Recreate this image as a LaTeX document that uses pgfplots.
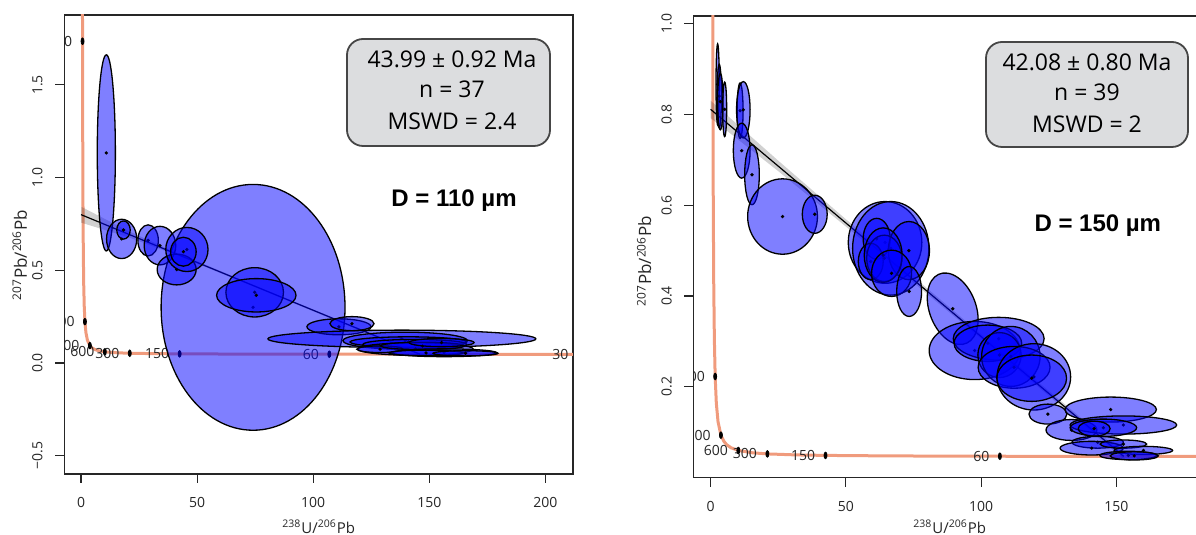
\documentclass[border=0pt]{standalone}
\usepackage{pgfplots}
\pgfplotsset{compat=1.18}
\usepackage{pgfplotstable}
\usepackage{fontspec}
\setmainfont{Open Sans}
\newfontfamily\lib{Liberation Sans}
\definecolor{conc}{RGB}{240,155,125}
\definecolor{boxfill}{RGB}{220,221,223}
\definecolor{boxline}{RGB}{70,70,70}

\pgfplotstableread{
x y
0.57439 2.507
0.6509 1.735
0.74232 1.2072
0.85326 0.8456
0.99025 0.5969
1.16306 0.42521
1.38699 0.30603
1.6875 0.2228
2.1110 0.16436
2.7491 0.12305
3.817 0.09365
4.8878 0.08017
5.9589 0.072526
7.5682 0.06583
10.252 0.05993
15.621 0.054724
20.992 0.05236
31.735 0.05013
42.477 0.04907
63.966 0.048036
80.08 0.047633
106.94 0.04723
128.43 0.047036
160.66 0.046840
214.38 0.04664
}\concordia

\pgfplotstableread{
x y
0.6509 1.735
1.6875 0.2228
3.817 0.09365
10.252 0.05993
20.992 0.05236
42.477 0.04907
106.94 0.04723
}\ticksL

\pgfplotstableread{
x y
1.6875 0.2228
3.817 0.09365
10.252 0.05993
20.992 0.05236
42.477 0.04907
106.94 0.04723
}\ticksR

\pgfplotstableread{
x y ax ay by
74.1 0.300 39.6 0 0.663
10.9 1.133 3.9 0 0.529
17.5 0.669 6.5 0 0.106
18.3 0.717 2.9 0 0.049
28.9 0.661 4.4 0 0.084
34.0 0.633 6.8 0 0.104
41.2 0.504 8.4 0 0.083
45.6 0.612 9.1 0 0.119
44.1 0.600 5.5 0 0.078
74.8 0.381 12.4 0 0.133
75.5 0.365 17.1 0 0.090
111.1 0.195 13.8 0 0.043
116.7 0.212 9.5 0 0.038
138.2 0.130 57.7 0 0.047
139.6 0.120 26.8 0 0.046
141.0 0.113 25.1 0 0.028
143.8 0.100 22.4 0 0.027
144.1 0.075 24.8 0 0.034
128.8 0.074 10.0 0 0.018
147.1 0.092 18.0 0 0.020
155.3 0.110 14.0 0 0.022
156.4 0.055 22.6 0 0.021
148.6 0.054 16.0 0 0.015
165.6 0.052 14.0 0 0.014
}\ellL

\pgfplotstableread{
x y ax ay by
2.6 0.866 0.6 0 0.089
3.2 0.840 0.8 0 0.070
3.6 0.828 1.0 0 0.062
5.2 0.811 0.74 0 0.060
10.9 0.808 1.1 0 0.061
12.1 0.810 2.5 0 0.062
11.5 0.720 3.1 0 0.0605
15.3 0.667 2.7 0 0.066
26.6 0.575 12.9 0 0.083
38.5 0.580 4.6 0 0.042
64.5 0.518 13.6 0 0.090
66.6 0.505 14.1 0 0.103
61.4 0.526 5.0 0 0.045
73.3 0.500 7.6 0 0.064
59.2 0.476 4.6 0 0.040
64.2 0.483 6.5 0 0.051
63.8 0.490 7.0 0 0.060
66.9 0.450 7.4 0 0.051
73.4 0.410 4.6 0 0.055
89.5 0.372 9.4 -0.024 0.075
97.6 0.280 16.8 0 0.064
106.5 0.306 16.8 0 0.047
102.5 0.296 12.5 0 0.040
106.8 0.270 8.0 0 0.0495
111.0 0.267 10.8 0 0.066
112.2 0.243 13.3 0 0.046
119.5 0.222 13.6 0 0.073
118.7 0.219 12.9 0 0.051
124.7 0.140 7.0 0 0.022
147.9 0.150 16.9 0 0.0275
133.4 0.105 9.4 0 0.023
152.6 0.116 19.7 0 0.020
145.2 0.110 12.3 0 0.019
141.8 0.108 5.9 0 0.0165
143.1 0.078 9.5 0 0.013
140.9 0.065 11.7 0 0.015
152.6 0.074 8.6 0 0.009
160.0 0.060 10.8 0 0.009
154.4 0.049 10.5 0 0.0092
156.6 0.048 8.9 0 0.009
}\ellR

\tikzset{agelabel/.style={anchor=east, xshift=-5pt, inner sep=0pt, font=\fontsize{7}{8}\selectfont, text=black!85}}

\pgfplotsset{
  myaxis/.style={
    scale only axis, anchor=south west,
    axis line style={line width=0.75pt, black!85},
    tick align=outside, major tick length=4.5pt,
    tick style={line width=0.6pt, black!85},
    xtick pos=bottom, ytick pos=left,
    tick label style={font=\fontsize{7}{8}\selectfont, text=black!85},
    xticklabel style={anchor=north, inner sep=0pt},
    yticklabel style={rotate=90, anchor=south, inner sep=0pt},
    xticklabel shift=7.1pt,
    yticklabel shift=6.1pt,
    clip=true,
  },
  ells/.style={
    scatter, only marks, mark=*, mark size=0.45pt,
    visualization depends on={\thisrow{ax}\as\eax},
    visualization depends on={\thisrow{ay}\as\eay},
    visualization depends on={\thisrow{by}\as\eby},
    scatter/@pre marker code/.code={%
      \pgfscope
      \pgfpathellipse{\pgfpointorigin}{\pgfplotspointaxisdirectionxy{\eax}{\eay}}{\pgfplotspointaxisdirectionxy{0}{\eby}}%
      \pgfsetfillcolor{blue}%
      \pgfsetfillopacity{0.5}%
      \pgfsetstrokecolor{black}%
      \pgfsetlinewidth{0.65pt}%
      \pgfusepath{fill,stroke}%
      \pgfsetfillopacity{1}%
      \pgfsetfillcolor{black}%
    },
    scatter/@post marker code/.code={\endpgfscope},
  },
}

\begin{document}
\begin{tikzpicture}
\useasboundingbox (0,0) rectangle (598pt,267.5pt);
\clip (0,0) rectangle (598pt,267.5pt);

% ---------------- left panel ----------------
\begin{axis}[myaxis, at={(32.15pt,30.5pt)}, width=254.35pt, height=229.5pt,
  xmin=-7.2, xmax=211.9, ymin=-0.599, ymax=1.877,
  xtick={0,50,100,150,200}, xticklabels={0,50,100,150,200},
  ytick={-0.5,0,0.5,1,1.5}, yticklabels={−0.5,0.0,0.5,1.0,1.5}]
\addplot[conc, line width=1.5pt] table {\concordia};
\addplot[only marks, mark=*, mark size=0.75pt, mark options={yscale=2.2, black}] table {\ticksL};
\pgfplotsextra{
  \begin{scope}
  \clip (rel axis cs:0,0) rectangle (rel axis cs:1,1);
  \node[agelabel] at (axis cs:0.6509,1.735) {6000};
  \node[agelabel] at (axis cs:1.6875,0.2228) {3000};
  \node[agelabel] at (axis cs:3.817,0.09365) {1500};
  \node[agelabel] at (axis cs:10.252,0.05993) {600};
  \node[agelabel] at (axis cs:20.992,0.05236) {300};
  \node[agelabel] at (axis cs:42.477,0.04907) {150};
  \node[agelabel] at (axis cs:106.94,0.04723) {60};
  \node[agelabel] at (axis cs:214.38,0.04664) {30};
  \end{scope}
}
\addplot[draw=none, fill=black, fill opacity=0.18] coordinates {(0,0.843) (20,0.714) (40,0.601) (75,0.418) (110,0.237) (146,0.052) (146,0.042) (110,0.227) (75,0.408) (40,0.587) (20,0.680) (0,0.757) (0,0.843)};
\addplot[black, line width=0.6pt] coordinates {(0,0.80) (146,0.047)};
\addplot[ells] table {\ellL};
\end{axis}

% ---------------- right panel ----------------
\begin{axis}[myaxis, at={(346.7pt,28.65pt)}, width=254.35pt, height=230.85pt,
  xmin=-6.36, xmax=181.7, ymin=0.0, ymax=1.0165,
  xtick={0,50,100,150}, xticklabels={0,50,100,150},
  ytick={0.2,0.4,0.6,0.8,1.0}, yticklabels={0.2,0.4,0.6,0.8,1.0}]
\addplot[conc, line width=1.5pt] table {\concordia};
\addplot[only marks, mark=*, mark size=0.75pt, mark options={yscale=2.2, black}] table {\ticksR};
\pgfplotsextra{
  \begin{scope}
  \clip (rel axis cs:0,0) rectangle (rel axis cs:1,1);
  \node[agelabel] at (axis cs:1.6875,0.2228) {3000};
  \node[agelabel] at (axis cs:3.817,0.09365) {1500};
  \node[agelabel] at (axis cs:10.252,0.05993) {600};
  \node[agelabel] at (axis cs:20.992,0.05236) {300};
  \node[agelabel] at (axis cs:42.477,0.04907) {150};
  \node[agelabel] at (axis cs:106.94,0.04723) {60};
  \end{scope}
}
\addplot[draw=none, fill=black, fill opacity=0.18] coordinates {(0,0.830) (25,0.698) (50,0.569) (100,0.316) (152.7,0.053) (152.7,0.041) (100,0.306) (50,0.553) (25,0.675) (0,0.792) (0,0.830)};
\addplot[black, line width=0.6pt] coordinates {(0,0.811) (152.7,0.047)};
\addplot[ells] table {\ellR};
\end{axis}

% ---------------- axis titles ----------------
\node[anchor=base, font=\fontsize{7.5}{9}\selectfont, text=black!85] at (159.4pt,0.8pt) {\textsuperscript{238}U/\textsuperscript{206}Pb};
\node[anchor=base, font=\fontsize{7.5}{9}\selectfont, text=black!85] at (474.85pt,0.8pt) {\textsuperscript{238}U/\textsuperscript{206}Pb};
\node[anchor=base, rotate=90, font=\fontsize{8.5}{10}\selectfont, text=black!85] at (13.4pt,140pt) {\textsuperscript{207}Pb/\textsuperscript{206}Pb};
\node[anchor=base, rotate=90, font=\fontsize{8.5}{10}\selectfont, text=black!85] at (325.6pt,137pt) {\textsuperscript{207}Pb/\textsuperscript{206}Pb};

% ---------------- annotation boxes ----------------
\node[draw=boxline, line width=0.9pt, fill=boxfill, rounded corners=8pt, minimum width=101.5pt, minimum height=53.5pt, inner sep=0pt] at (224.25pt,221.25pt) {};
\node[anchor=base, font=\fontsize{11.5}{13}\selectfont] at (226pt,233.65pt) {43.99 ± 0.92 Ma};
\node[anchor=base, font=\fontsize{11.5}{13}\selectfont] at (226pt,218.75pt) {n = 37};
\node[anchor=base, font=\fontsize{11.5}{13}\selectfont] at (226pt,202.85pt) {MSWD = 2.4};
\node[anchor=base, font=\lib\bfseries\fontsize{12}{14}\selectfont] at (227pt,164.25pt) {D = 110 µm};

\node[draw=boxline, line width=0.9pt, fill=boxfill, rounded corners=8pt, minimum width=101pt, minimum height=52.5pt, inner sep=0pt] at (543.5pt,220.25pt) {};
\node[anchor=base, font=\fontsize{11.5}{13}\selectfont] at (543.5pt,232.15pt) {42.08 ± 0.80 Ma};
\node[anchor=base, font=\fontsize{11.5}{13}\selectfont] at (543.5pt,217.25pt) {n = 39};
\node[anchor=base, font=\fontsize{11.5}{13}\selectfont] at (543.5pt,201.35pt) {MSWD = 2};
\node[anchor=base, font=\lib\bfseries\fontsize{12}{14}\selectfont] at (548.9pt,151.5pt) {D = 150 µm};
\end{tikzpicture}
\end{document}
